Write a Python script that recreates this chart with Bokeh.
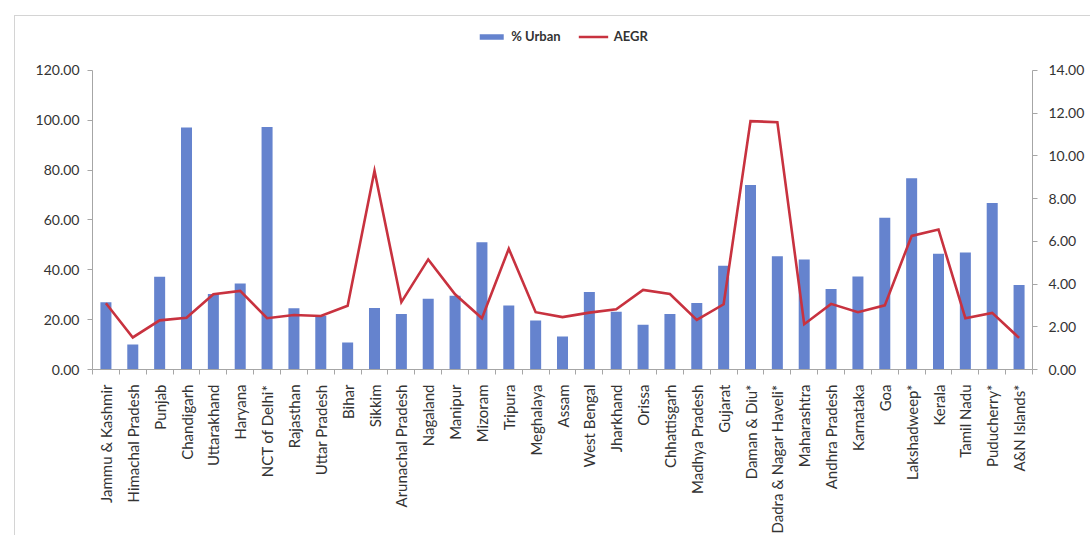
import math

from bokeh.plotting import figure
from bokeh.models import (Range1d, LinearAxis, FixedTicker, NumeralTickFormatter,
                          Legend, LegendItem)
from bokeh.embed import file_html
from bokeh.resources import INLINE

# States / UTs, share of urban population (%) and annual exponential growth rate
states = [
    "Jammu & Kashmir", "Himachal Pradesh", "Punjab", "Chandigarh", "Uttarakhand",
    "Haryana", "NCT of Delhi*", "Rajasthan", "Uttar Pradesh", "Bihar", "Sikkim",
    "Arunachal Pradesh", "Nagaland", "Manipur", "Mizoram", "Tripura", "Meghalaya",
    "Assam", "West Bengal", "Jharkhand", "Orissa", "Chhattisgarh", "Madhya Pradesh",
    "Gujarat", "Daman & Diu*", "Dadra & Nagar Haveli*", "Maharashtra",
    "Andhra Pradesh", "Karnataka", "Goa", "Lakshadweep*", "Kerala", "Tamil Nadu",
    "Puducherry*", "A&N Islands*",
]
pct_urban = [
    27.0, 10.0, 37.2, 97.0, 30.3, 34.5, 97.2, 24.6, 21.6, 10.8, 24.7,
    22.3, 28.4, 29.6, 51.0, 25.7, 19.6, 13.2, 31.1, 23.2, 17.9, 22.3,
    26.7, 41.6, 74.0, 45.4, 44.1, 32.3, 37.3, 60.9, 76.7, 46.4, 46.9,
    66.8, 33.9,
]
aegr = [
    3.10, 1.50, 2.30, 2.42, 3.52, 3.68, 2.40, 2.55, 2.50, 2.98, 9.30,
    3.15, 5.15, 3.52, 2.40, 5.65, 2.68, 2.45, 2.66, 2.82, 3.72, 3.53,
    2.32, 3.05, 11.62, 11.57, 2.12, 3.07, 2.68, 3.00, 6.25, 6.55, 2.40,
    2.65, 1.48,
]
urban_ticks = [0, 20, 40, 60, 80, 100, 120]
aegr_ticks = [0, 2, 4, 6, 8, 10, 12, 14]

BAR = "#6583CE"
LINE = "#C8323F"
AXIS = "#A6A6A6"
TXT = "#333333"
FONT = "Lato"

n = len(states)
centers = [i + 0.5 for i in range(n)]   # one slot per state
bounds = list(range(n + 1))             # slot edges

# the plotting area reaches a little above the top tick so the legend fits
# inside it; both axes stop at their last tick
HEADROOM = 343 / 301

p = figure(
    width=1076, height=520,
    x_range=Range1d(0, n),
    y_range=Range1d(urban_ticks[0], urban_ticks[-1] * HEADROOM),
    x_axis_location=None, y_axis_location=None,
    output_backend="svg", toolbar_location=None,
    min_border_left=77, min_border_right=59, min_border_top=12,
    min_border_bottom=165,
    margin=(15, 0, 0, 14),
    styles={"border-left": "1px solid #d4d4d4", "border-top": "1px solid #d4d4d4"},
)
p.outline_line_color = None
p.grid.visible = False
p.background_fill_color = "white"
p.border_fill_color = "white"

p.extra_y_ranges = {"aegr": Range1d(aegr_ticks[0], aegr_ticks[-1] * HEADROOM)}

bars = p.vbar(x=centers, top=pct_urban, width=0.41, fill_color=BAR, line_color=None)
line = p.line(x=centers, y=aegr, y_range_name="aegr", line_color=LINE,
              line_width=2.6, line_join="miter")

# left axis (% urban)
ly = LinearAxis(ticker=FixedTicker(ticks=urban_ticks),
                formatter=NumeralTickFormatter(format="0.00"),
                bounds=(urban_ticks[0], urban_ticks[-1]))
# right axis (AEGR)
ry = LinearAxis(y_range_name="aegr", ticker=FixedTicker(ticks=aegr_ticks),
                formatter=NumeralTickFormatter(format="0.00"),
                bounds=(aegr_ticks[0], aegr_ticks[-1]))
for ax, standoff in ((ly, 8), (ry, 11)):
    ax.axis_line_color = AXIS
    ax.major_tick_line_color = AXIS
    ax.major_tick_out = 5
    ax.major_tick_in = 0
    ax.minor_tick_line_color = None
    ax.major_label_text_font = FONT
    ax.major_label_text_font_size = "14px"
    ax.major_label_text_color = TXT
    ax.major_label_standoff = standoff
p.add_layout(ly, "left")
p.add_layout(ry, "right")

# state names, rotated, one under each slot; tick marks drawn between slots
name_axis = LinearAxis(
    ticker=FixedTicker(ticks=centers, minor_ticks=bounds),
    major_label_overrides={c: s for c, s in zip(centers, states)},
)
name_axis.axis_line_color = AXIS
name_axis.major_tick_line_color = None
name_axis.minor_tick_line_color = AXIS
name_axis.minor_tick_out = 5
name_axis.minor_tick_in = 0
name_axis.major_label_orientation = math.pi / 2
name_axis.major_label_text_font = FONT
name_axis.major_label_text_font_size = "15px"
name_axis.major_label_text_color = TXT
name_axis.major_label_standoff = 9
p.add_layout(name_axis, "below")

# legend centred at the top of the plotting area
legend = Legend(
    items=[LegendItem(label="% Urban", renderers=[bars]),
           LegendItem(label="AEGR", renderers=[line])],
    orientation="horizontal", location="top_center",
    glyph_width=30, glyph_height=7, label_standoff=5, spacing=18,
    label_text_font=FONT, label_text_font_size="13px",
    label_text_font_style="bold", label_text_color=TXT,
    border_line_color=None, background_fill_alpha=0,
    padding=4, margin=0,
)
p.add_layout(legend)

open("out.html", "w").write(file_html(p, INLINE))
